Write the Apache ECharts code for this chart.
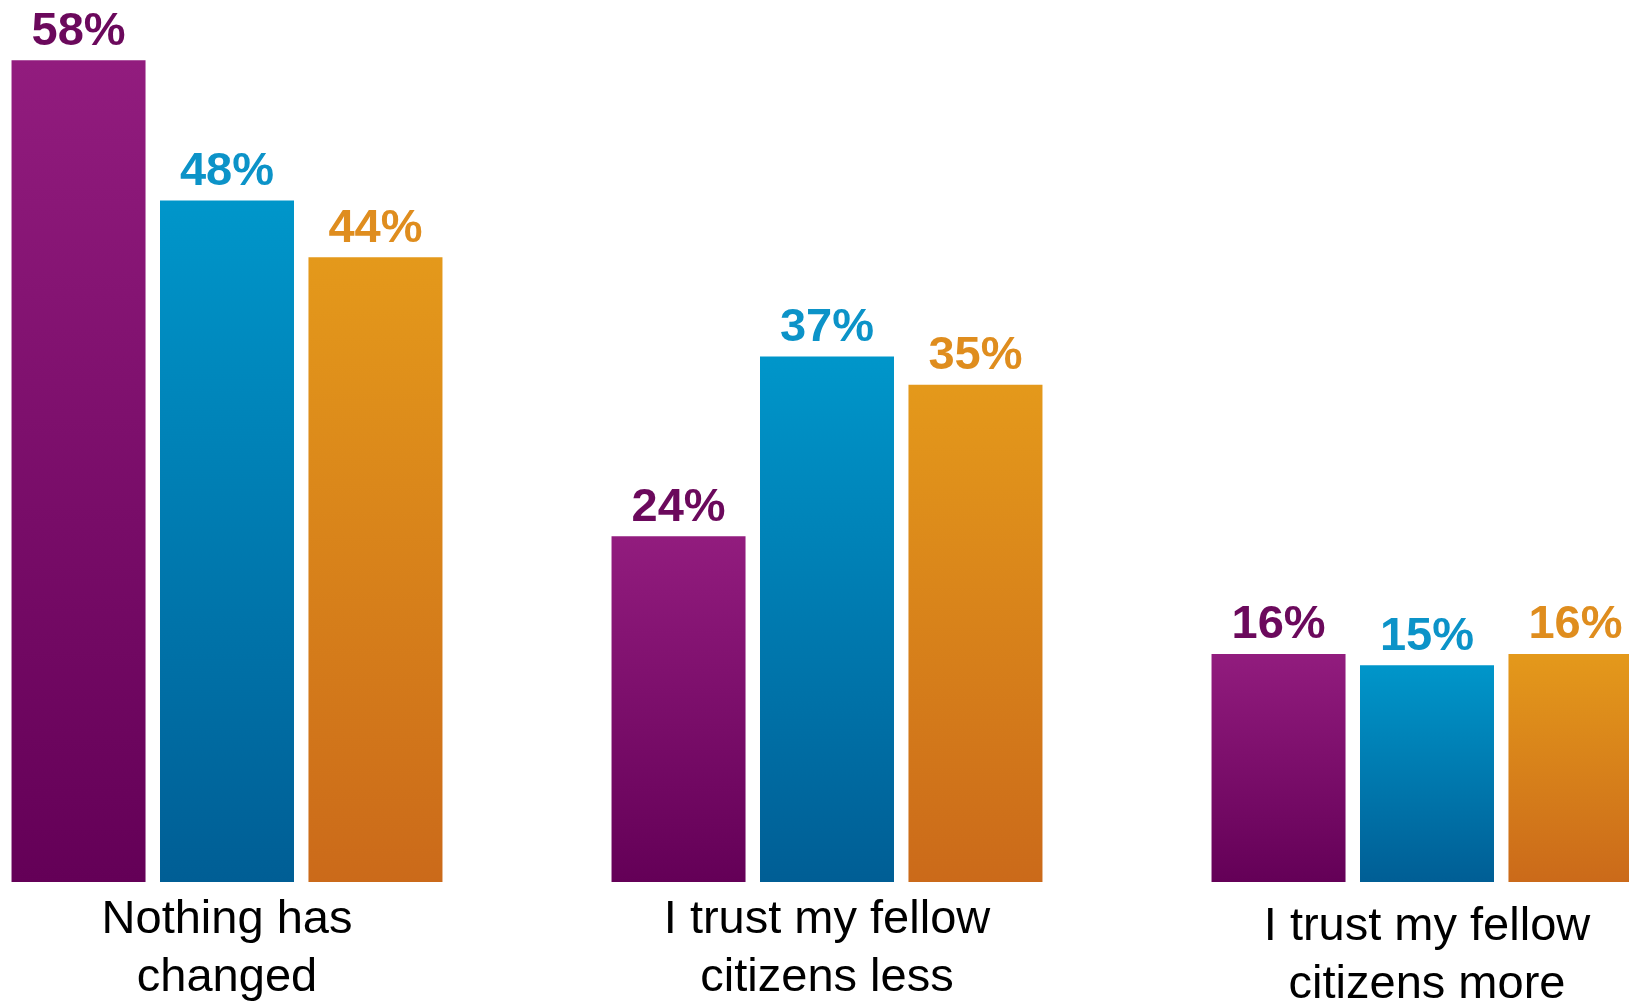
<!DOCTYPE html>
<html>
<head>
<meta charset="utf-8">
<title>Trust in fellow citizens</title>
<script src="https://cdn.jsdelivr.net/npm/echarts@6/dist/echarts.min.js"></script>
<style>
  html, body { margin: 0; padding: 0; background: #fff; overflow: hidden; width: 1629px; height: 1001px; position: relative; }
  /* the last group runs off the right edge in the original, so the canvas is wider than the page */
  #chart { position: absolute; left: -73.1px; top: 0; width: 1800.2px; height: 1001px; }
</style>
</head>
<body>
<div id="chart"></div>
<script>
  // categories (x axis)
  const categories = [
    'Nothing has\nchanged',
    'I trust my fellow\ncitizens less',
    'I trust my fellow\ncitizens more',
  ];

  // three series, values in %
  const seriesPurple = [58, 24.4, 16.1];
  const seriesBlue = [48.1, 37.1, 15.3];
  const seriesOrange = [44.1, 35.1, 16.1];

  const FONT = '"Liberation Sans", Arial, sans-serif';

  const palette = [
    { name: 'Purple', data: seriesPurple, top: '#921c7e', bottom: '#640057', label: '#6b095c' },
    { name: 'Blue', data: seriesBlue, top: '#0096ca', bottom: '#005e95', label: '#0c93c8' },
    { name: 'Orange', data: seriesOrange, top: '#e4991b', bottom: '#cb6a1a', label: '#df8d1e' },
  ];

  const chart = echarts.init(document.getElementById('chart'));

  const makeSeries = ({ name, data, top, bottom, label }) => ({
    name,
    type: 'bar',
    data,
    barWidth: 134,
    barGap: '10.8%',
    itemStyle: {
      color: new echarts.graphic.LinearGradient(0, 0, 0, 1, [
        { offset: 0, color: top },
        { offset: 1, color: bottom },
      ]),
    },
    label: {
      show: true,
      position: 'top',
      distance: 5,
      color: label,
      fontFamily: FONT,
      fontWeight: 'bold',
      fontSize: 47,
      formatter: (p) => `${Math.round(p.value)}%`,
    },
  });

  chart.setOption({
    animation: false,
    backgroundColor: '#ffffff',
    grid: {
      left: 0,
      right: 0,
      top: 32,
      bottom: 119,
      containLabel: false,
      outerBoundsMode: 'none',
    },
    xAxis: {
      type: 'category',
      data: categories.map((c, i) =>
        i === 2 ? { value: c, textStyle: { padding: [7, 0, 0, 0] } } : c
      ),
      axisLine: { show: false },
      axisTick: { show: false },
      splitLine: { show: false },
      axisLabel: {
        color: '#000000',
        fontFamily: FONT,
        fontSize: 47,
        lineHeight: 58,
        margin: 9,
        interval: 0,
      },
    },
    yAxis: {
      type: 'value',
      min: 0,
      max: 60,
      show: false,
    },
    series: palette.map(makeSeries),
  });
</script>
</body>
</html>
